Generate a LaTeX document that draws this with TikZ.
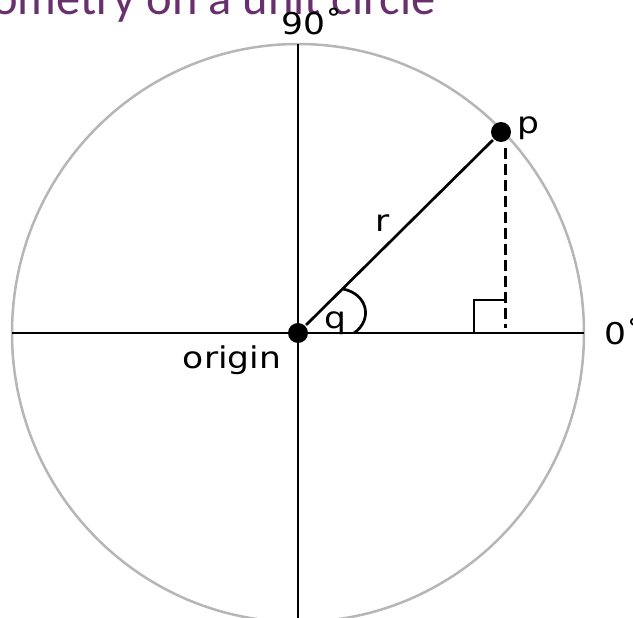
\documentclass[tikz,border=0pt]{standalone}
\usepackage{fontspec}
\setmainfont{DejaVu Sans}
\newfontfamily\titlefont{Carlito}
\newfontfamily\lblfont[FakeStretch=1.15]{DejaVu Sans}
\usepackage{tikz}

\definecolor{titlepurple}{RGB}{105,48,110}
\definecolor{rimgray}{RGB}{182,182,182}

\tikzset{
    dot/.style={circle, fill=black, inner sep=0pt, minimum size=20pt},
    lbl/.style={font=\lblfont\fontsize{30}{30}\selectfont, inner sep=0pt},
}

\begin{document}
\begin{tikzpicture}[x=1pt, y=-1pt, line width=2.7pt]
    \useasboundingbox (0,0) rectangle (633,618);

    % title, cut by the page edge
    \node[anchor=base east, inner sep=0pt, text=titlepurple,
          font=\titlefont\fontsize{48.5}{48.5}\selectfont] (title) at (437,15) {Geometry on a unit circle};

    % unit circle and axes
    \draw[rimgray, line width=2.5pt] (298,333) ellipse [x radius=286, y radius=289];
    \coordinate (west) at (12,333);
    \coordinate (east) at (584,333);
    \coordinate (north) at (298,44);
    \coordinate (south) at (298,618);
    \draw (west) -- (east);
    \draw (north) -- (south);

    % points
    \node[dot] (O) at (298,333) {};
    \node[dot] (P) at (501,132) {};
    \draw (O) -- (P);

    % drop to the axis
    \coordinate (top) at (505,148);
    \coordinate (foot) at (505,328);
    \draw[line width=3pt, dash pattern=on 11pt off 5pt] (top) -- (foot);
    \draw (474,333) -- (474,300) -- (506,300);

    % angle
    \draw (343,289) .. controls (368,294) and (373,320) .. (354,333);

    % labels
    \node[lbl, anchor=base] (q) at (335,328) {q};
    \node[lbl, anchor=base] (r) at (383,231) {r};
    \node[lbl, anchor=base west] (plabel) at (516,134) {p};
    \node[lbl, anchor=base] (orig) at (232,368) {origin};
    \node[lbl, anchor=base west] (zero) at (603,344) {0˚};
    \node[lbl, anchor=base west] (ninety) at (280,35) {90˚};
\end{tikzpicture}
\end{document}
